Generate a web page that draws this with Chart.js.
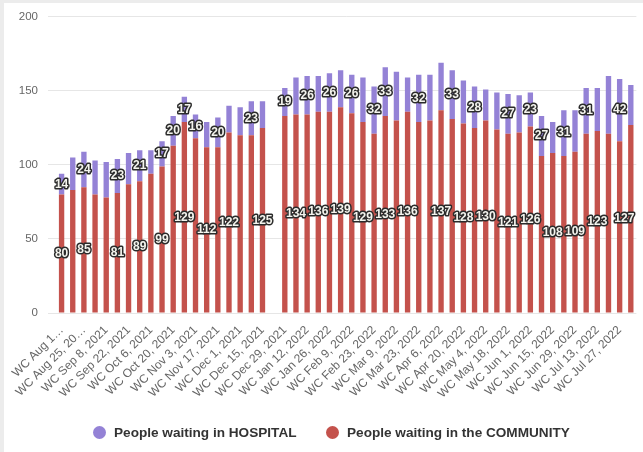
<!DOCTYPE html>
<html lang="en">
<head>
<meta charset="UTF-8">
<title>People waiting - Hospital and Community</title>
<script src="https://cdn.jsdelivr.net/npm/chart.js"></script>
<style>
  html, body { margin: 0; padding: 0; background: #fff; }
  .wrap { position: relative; width: 643px; height: 452px; }
  .edge { position: absolute; left: 0; top: 0; right: 0; bottom: 0; border-top: 3px solid #ececec; border-left: 4px solid #ececec; pointer-events: none; }
  .legend { position: absolute; top: 424px; left: 0; width: 643px; height: 20px; font: bold 13.6px "Liberation Sans", Arial, sans-serif; color: #333; }
  .legend span { position: absolute; top: 1px; white-space: nowrap; }
  .legend i { display: inline-block; width: 13px; height: 13px; border-radius: 50%; vertical-align: -2px; margin-right: 8px; }
</style>
</head>
<body>
<div class="wrap">
  <canvas id="waitChart" width="643" height="452"></canvas>
  <div class="legend">
    <span style="left: 93px"><i style="background:#9482d6"></i>People waiting in HOSPITAL</span>
    <span style="left: 326px"><i style="background:#c4524c"></i>People waiting in the COMMUNITY</span>
  </div>
  <div class="edge"></div>
</div>
<script>
  const weeks = [
    'WC Aug 11, 2021', 'WC Aug 18, 2021', 'WC Aug 25, 2021', 'WC Sep 1, 2021', 'WC Sep 8, 2021',
    'WC Sep 15, 2021', 'WC Sep 22, 2021', 'WC Sep 29, 2021', 'WC Oct 6, 2021', 'WC Oct 13, 2021',
    'WC Oct 20, 2021', 'WC Oct 27, 2021', 'WC Nov 3, 2021', 'WC Nov 10, 2021', 'WC Nov 17, 2021',
    'WC Nov 24, 2021', 'WC Dec 1, 2021', 'WC Dec 8, 2021', 'WC Dec 15, 2021', 'WC Dec 22, 2021',
    'WC Dec 29, 2021', 'WC Jan 5, 2022', 'WC Jan 12, 2022', 'WC Jan 19, 2022', 'WC Jan 26, 2022',
    'WC Feb 2, 2022', 'WC Feb 9, 2022', 'WC Feb 16, 2022', 'WC Feb 23, 2022', 'WC Mar 2, 2022',
    'WC Mar 9, 2022', 'WC Mar 16, 2022', 'WC Mar 23, 2022', 'WC Mar 30, 2022', 'WC Apr 6, 2022',
    'WC Apr 13, 2022', 'WC Apr 20, 2022', 'WC Apr 27, 2022', 'WC May 4, 2022', 'WC May 11, 2022',
    'WC May 18, 2022', 'WC May 25, 2022', 'WC Jun 1, 2022', 'WC Jun 8, 2022', 'WC Jun 15, 2022',
    'WC Jun 22, 2022', 'WC Jun 29, 2022', 'WC Jul 6, 2022', 'WC Jul 13, 2022', 'WC Jul 20, 2022',
    'WC Jul 27, 2022', 'WC Aug 3, 2022'
  ];

  // first two axis labels are cut short in the original
  const shortTicks = { 0: 'WC Aug 1\u2026', 2: 'WC Aug 25, 20\u2026' };

  const community = [
    80, 83, 85, 80, 78, 81, 87, 89, 94, 99,
    113, 129, 118, 112, 112, 122, 120, 120, 125, null,
    133, 134, 134, 136, 136, 139, 135, 129, 121, 133,
    130, 136, 129, 130, 137, 131, 128, 125, 130, 124,
    121, 122, 126, 106, 108, 106, 109, 121, 123, 121,
    116, 127
  ];

  const hospital = [
    14, 22, 24, 23, 24, 23, 21, 21, 16, 17,
    20, 17, 16, 17, 20, 18, 19, 23, 18, null,
    19, 25, 26, 24, 26, 25, 26, 30, 32, 33,
    33, 23, 32, 31, 32, 33, 29, 28, 21, 25,
    27, 25, 23, 27, 21, 31, 28, 31, 29, 39,
    42, 27
  ];

  // which weeks carry a value label (the rest were hidden in the original)
  const communityLabelled = [0, 2, 5, 7, 9, 11, 13, 15, 18, 21, 23, 25, 27, 29, 31, 34, 36, 38, 40, 42, 44, 46, 48, 51];
  const hospitalLabelled = [0, 2, 5, 7, 9, 10, 11, 12, 14, 17, 20, 22, 24, 26, 28, 29, 32, 35, 37, 40, 42, 43, 45, 47, 50];

  const barLabels = {
    id: 'barLabels',
    afterDatasetsDraw(chart) {
      const ctx = chart.ctx;
      ctx.save();
      ctx.font = 'bold 12px "Liberation Sans", Arial, sans-serif';
      ctx.textAlign = 'center';
      ctx.textBaseline = 'middle';
      ctx.lineJoin = 'round';
      chart.data.datasets.forEach((ds, di) => {
        const meta = chart.getDatasetMeta(di);
        meta.data.forEach((bar, i) => {
          if (!ds.labelled.includes(i) || ds.data[i] == null) return;
          const text = String(ds.data[i]);
          const w = ctx.measureText(text).width;
          const x = Math.min(bar.x, chart.chartArea.right - w / 2 - 2);
          const y = (bar.y + bar.base) / 2;
          ctx.strokeStyle = '#2b2b2b';
          ctx.lineWidth = 3;
          ctx.strokeText(text, x, y);
          ctx.fillStyle = '#f4f4ee';
          ctx.fillText(text, x, y);
        });
      });
      ctx.restore();
    }
  };

  new Chart(document.getElementById('waitChart'), {
    type: 'bar',
    data: {
      labels: weeks,
      datasets: [
        {
          label: 'People waiting in the COMMUNITY',
          data: community,
          labelled: communityLabelled,
          backgroundColor: '#c4524c',
          barPercentage: 0.48,
          categoryPercentage: 1
        },
        {
          label: 'People waiting in HOSPITAL',
          data: hospital,
          labelled: hospitalLabelled,
          backgroundColor: '#9482d6',
          barPercentage: 0.48,
          categoryPercentage: 1
        }
      ]
    },
    options: {
      responsive: false,
      animation: false,
      layout: { padding: { top: 10, right: 1, bottom: 40, left: 0 } },
      plugins: {
        tooltip: { enabled: false },
        legend: { display: false }
      },
      scales: {
        x: {
          stacked: true,
          grid: { display: false },
          border: { display: false },
          ticks: {
            autoSkip: false,
            minRotation: 45,
            maxRotation: 45,
            padding: 2,
            color: '#666',
            font: { family: '"Liberation Sans", Arial, sans-serif', size: 12 },
            callback: function (value, index) {
              if (index % 2) return '';
              return shortTicks[index] || this.getLabelForValue(value);
            }
          },
          afterFit: (axis) => { axis.height = 99; }
        },
        y: {
          stacked: true,
          min: 0,
          max: 200,
          grid: { color: '#e6e6e6' },
          border: { display: false },
          ticks: {
            stepSize: 50,
            padding: 10,
            color: '#666',
            font: { family: '"Liberation Sans", Arial, sans-serif', size: 11.5 }
          },
          afterFit: (axis) => { axis.width = 56; }
        }
      }
    },
    plugins: [barLabels]
  });
</script>
</body>
</html>
